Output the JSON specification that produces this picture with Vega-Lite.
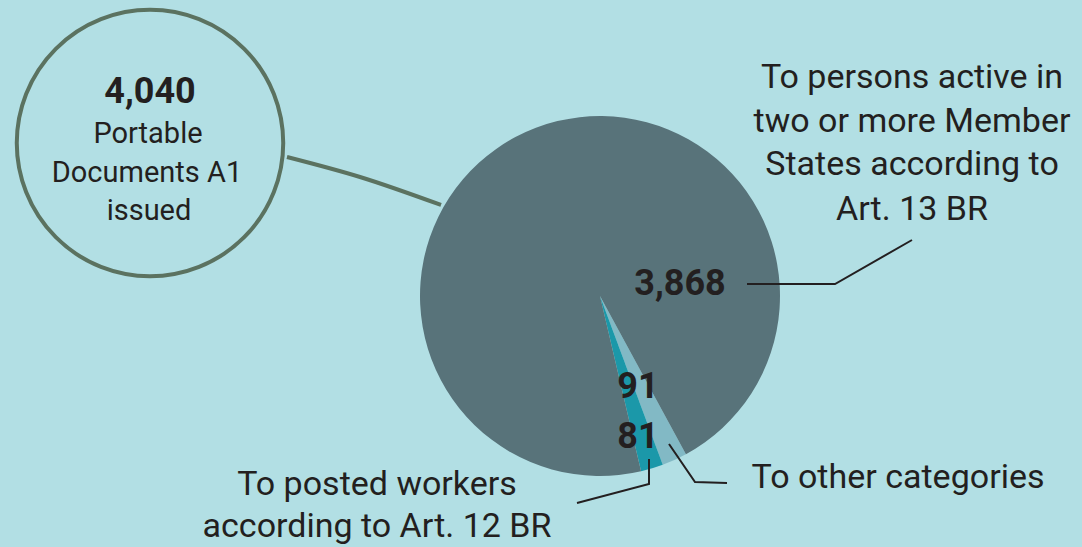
{
  "$schema": "https://vega.github.io/schema/vega-lite/v6.json",
  "width": 1082,
  "height": 547,
  "autosize": {"type": "fit", "contains": "padding"},
  "padding": 0,
  "background": "#b2dfe4",
  "config": {"view": {"stroke": null}, "axis": {"disable": true}, "text": {"font": "Roboto", "color": "#231f20"}},
  "datasets": {
    "pie": [
      {"category": "To other categories", "value": 91, "ord": 1},
      {"category": "To posted workers according to Art. 12 BR", "value": 81, "ord": 2},
      {"category": "To persons active in two or more Member States according to Art. 13 BR", "value": 3868, "ord": 3}
    ],
    "curve": [
      {"x": 287, "y": 157},
      {"x": 360, "y": 177},
      {"x": 441, "y": 205}
    ],
    "leaders": [
      {"g": "a", "i": 1, "x": 747, "y": 284},
      {"g": "a", "i": 2, "x": 835, "y": 284},
      {"g": "a", "i": 3, "x": 912, "y": 240},
      {"g": "b", "i": 1, "x": 649, "y": 459},
      {"g": "b", "i": 2, "x": 649, "y": 484},
      {"g": "b", "i": 3, "x": 577, "y": 503},
      {"g": "c", "i": 1, "x": 669, "y": 444},
      {"g": "c", "i": 2, "x": 695, "y": 482},
      {"g": "c", "i": 3, "x": 727, "y": 483}
    ],
    "circleText": [
      {"t": "Portable", "x": 148, "y": 143},
      {"t": "Documents A1", "x": 147, "y": 182},
      {"t": "issued", "x": 149, "y": 220}
    ],
    "numbers": [
      {"t": "4,040", "x": 150, "y": 103},
      {"t": "3,868", "x": 680, "y": 295},
      {"t": "91", "x": 638, "y": 398},
      {"t": "81", "x": 638, "y": 448}
    ],
    "labels": [
      {"t": "To persons active in", "x": 912, "y": 88},
      {"t": "two or more Member", "x": 912, "y": 132},
      {"t": "States according to", "x": 912, "y": 175},
      {"t": "Art. 13 BR", "x": 912, "y": 220},
      {"t": "To posted workers", "x": 377, "y": 495},
      {"t": "according to Art. 12 BR", "x": 377, "y": 537},
      {"t": "To other categories", "x": 898, "y": 488}
    ]
  },
  "layer": [
    {
      "data": {"name": "pie"},
      "mark": {"type": "arc", "radius": 180},
      "encoding": {
        "x": {"datum": 600, "type": "quantitative", "scale": {"domain": [0, 1082], "nice": false, "zero": false}},
        "y": {"datum": 296, "type": "quantitative", "scale": {"domain": [0, 547], "nice": false, "zero": false, "reverse": true}},
        "theta": {"field": "value", "type": "quantitative", "stack": true, "scale": {"range": [2.644, 8.927]}},
        "order": {"field": "ord"},
        "color": {"field": "category", "type": "nominal", "legend": null,
          "scale": {"domain": ["To other categories", "To posted workers according to Art. 12 BR", "To persons active in two or more Member States according to Art. 13 BR"],
                    "range": ["#82b9c5", "#1b98a9", "#58737a"]}}
      }
    },
    {
      "data": {"values": [{"label": "4,040 Portable Documents A1 issued"}]},
      "mark": {"type": "point", "shape": "circle", "size": 71000, "filled": false, "stroke": "#5b7260", "strokeWidth": 4, "opacity": 1},
      "encoding": {
        "x": {"datum": 150, "type": "quantitative"},
        "y": {"datum": 143, "type": "quantitative"}
      }
    },
    {
      "data": {"name": "curve"},
      "mark": {"type": "line", "interpolate": "monotone", "stroke": "#5b7260", "strokeWidth": 4},
      "encoding": {
        "x": {"field": "x", "type": "quantitative"},
        "y": {"field": "y", "type": "quantitative"}
      }
    },
    {
      "data": {"name": "leaders"},
      "mark": {"type": "line", "stroke": "#231f20", "strokeWidth": 2},
      "encoding": {
        "x": {"field": "x", "type": "quantitative"},
        "y": {"field": "y", "type": "quantitative"},
        "detail": {"field": "g"},
        "order": {"field": "i"}
      }
    },
    {
      "data": {"name": "circleText"},
      "mark": {"type": "text", "fontSize": 29, "align": "center", "baseline": "alphabetic"},
      "encoding": {
        "x": {"field": "x", "type": "quantitative"},
        "y": {"field": "y", "type": "quantitative"},
        "text": {"field": "t"}
      }
    },
    {
      "data": {"name": "numbers"},
      "mark": {"type": "text", "fontSize": 36, "fontWeight": "bold", "align": "center", "baseline": "alphabetic"},
      "encoding": {
        "x": {"field": "x", "type": "quantitative"},
        "y": {"field": "y", "type": "quantitative"},
        "text": {"field": "t"}
      }
    },
    {
      "data": {"name": "labels"},
      "mark": {"type": "text", "fontSize": 34, "align": "center", "baseline": "alphabetic"},
      "encoding": {
        "x": {"field": "x", "type": "quantitative"},
        "y": {"field": "y", "type": "quantitative"},
        "text": {"field": "t"}
      }
    }
  ]
}
